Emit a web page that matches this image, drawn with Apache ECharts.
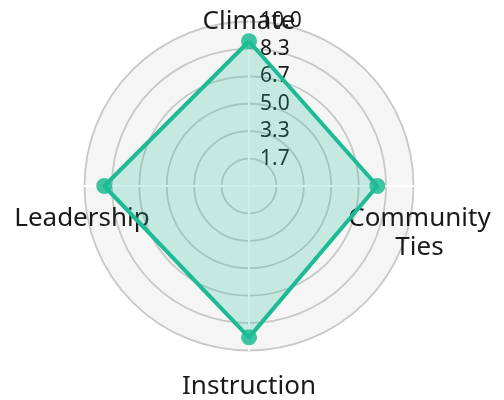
<!DOCTYPE html>
<html>
<head>
<meta charset="utf-8">
<script src="https://cdn.jsdelivr.net/npm/echarts@6/dist/echarts.min.js"></script>
<style>
  html, body { margin: 0; padding: 0; background: #fff; }
  #chart { width: 504px; height: 400px; }
</style>
</head>
<body>
<div id="chart"></div>
<script>
// radar axes (echarts goes counter-clockwise from top) and the one series
const axes = ["Climate", "Leadership", "Instruction", "Community\nTies"];
const scores = [8.8, 8.8, 9.2, 7.8];
const maxScore = 10;

// name placement per axis: all names centred on the axis end
const nameStyles = [
  { align: "center", verticalAlign: "middle" },
  { align: "center", verticalAlign: "top", padding: [18, 5, 0, 0] },
  { align: "center", verticalAlign: "top", padding: [22, 0, 0, 0] },
  { align: "center", verticalAlign: "top", padding: [18, 0, 0, 12] },
];

const chart = echarts.init(document.getElementById("chart"));

chart.setOption({
  animation: false,
  radar: {
    center: [249, 186],
    radius: 164.5,
    shape: "circle",
    splitNumber: 6,
    startAngle: 90,
    nameGap: 0,
    axisName: {
      color: "#1a1a1a",
      fontFamily: "Noto Sans",
      fontSize: 26,
      lineHeight: 29,
    },
    indicator: axes.map((name, i) => ({
      name: name,
      max: maxScore,
      min: 0,
      nameMoveOverlap: false,
      nameTextStyle: nameStyles[i],
      axisLabel: { show: i === 0 },
    })),
    axisLine: { lineStyle: { color: "#ffffff", width: 2 } },
    splitLine: { lineStyle: { color: "#c8c8c8", width: 1.8 } },
    splitArea: { areaStyle: { color: ["#f5f5f5"] } },
    axisLabel: {
      show: true,
      margin: -11,
      align: "left",
      verticalAlign: "middle",
      padding: [6, 0, 0, 0],
      color: "#1a1a1a",
      fontFamily: "Noto Sans",
      fontSize: 21,
      formatter: (v) => (v === 0 ? "" : v.toFixed(1)),
    },
  },
  series: [
    {
      type: "radar",
      symbol: "circle",
      symbolSize: 16,
      lineStyle: { color: "#1dbb94", width: 4 },
      itemStyle: { color: "#1dbb94", opacity: 0.85 },
      areaStyle: { color: "#1dbb94", opacity: 0.22 },
      data: [{ value: scores, name: "score" }],
    },
  ],
});
</script>
</body>
</html>
